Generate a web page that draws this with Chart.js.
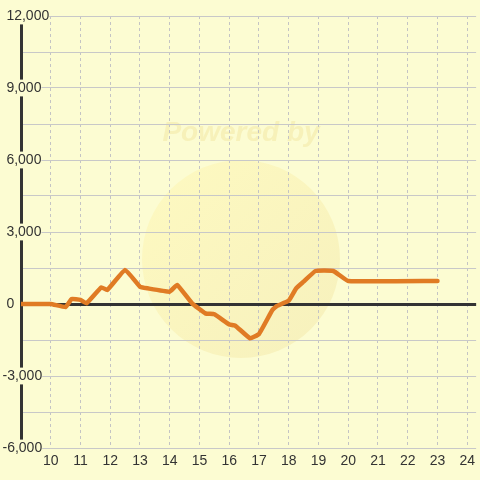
<!DOCTYPE html>
<html>
<head>
<meta charset="utf-8">
<script src="https://cdn.jsdelivr.net/npm/chart.js@4/dist/chart.umd.min.js"></script>
<style>
  html, body { margin: 0; padding: 0; background: #fcfcd2; }
  #wrap { width: 480px; height: 480px; }
</style>
</head>
<body>
<div id="wrap"><canvas id="lineChart"></canvas></div>
<script>
// - - - - - - - - - - Dados - - - - - - - - - -
const horas = [9, 10, 10.5, 10.7, 11, 11.2, 11.7, 11.9, 12.5, 13, 13.25, 14, 14.25, 14.75, 15.2,
    15.5, 16, 16.2, 16.7, 17, 17.45, 17.6, 18, 18.25, 18.5, 18.9, 19.5, 20, 23];
const valores = [0, 0, -125, 208, 170, 30, 695, 583, 1417, 720, 654, 514, 792, 29, -390,
    -430, -850, -900, -1430, -1250, -250, -83, 138, 654, 930, 1375, 1375, 958, 958];
const ticks_x = [10, 11, 12, 13, 14, 15, 16, 17, 18, 19, 20, 21, 22, 23, 24];
const ticks_y = [12000, 9000, 6000, 3000, 0, -3000, -6000];

const cor_fundo = '#fcfcd2';

// fundo + marca d'agua
const fundo = {
    id: 'fundo',
    beforeDraw(chart) {
        const c = chart.ctx;
        c.save();
        c.fillStyle = cor_fundo;
        c.fillRect(0, 0, chart.width, chart.height);
        const g = c.createLinearGradient(160, 180, 320, 340);
        g.addColorStop(0, 'rgba(255,242,160,0.35)');
        g.addColorStop(1, 'rgba(238,222,150,0.35)');
        c.fillStyle = g;
        c.beginPath();
        c.arc(241, 259, 99, 0, Math.PI * 2);
        c.fill();
        c.font = 'italic bold 28px "Liberation Sans", Arial, sans-serif';
        c.fillStyle = 'rgba(235,215,130,0.3)';
        c.textAlign = 'center';
        c.textBaseline = 'middle';
        c.fillText('Powered by', 241, 133);
        c.restore();
    }
};

const ctx = document.getElementById('lineChart').getContext('2d');

new Chart(ctx, {
    type: 'line',
    data: {
        datasets: [{
            data: horas.map((h, i) => ({x: h, y: valores[i]})),
            borderColor: '#e07b24',
            borderWidth: 4.5,
            borderJoinStyle: 'round',
            borderCapStyle: 'round',
            pointRadius: 0,
            tension: 0.1,
            fill: false
        }]
    },
    options: {
        responsive: true,
        maintainAspectRatio: false,
        animation: false,
        layout: {autoPadding: false, padding: {top: 16, left: 0, right: 0, bottom: 0}},
        plugins: {legend: {display: false}, tooltip: {enabled: false}},
        scales: {
            x: {
                type: 'linear',
                min: 9,
                max: 24.3,
                afterFit: s => { s.height = 32; },
                afterBuildTicks: s => { s.ticks = ticks_x.map(v => ({value: v})); },
                grid: {color: '#c4c4c4', lineWidth: 1, drawTicks: false},
                border: {display: false, dash: [3, 3]},
                ticks: {
                    color: '#333',
                    padding: 5,
                    maxRotation: 0,
                    autoSkip: false,
                    font: {family: '"Liberation Sans", Arial, sans-serif', size: 14}
                }
            },
            y: {
                min: -6000,
                max: 12000,
                afterFit: s => { s.width = 21; },
                afterBuildTicks: s => {
                    const t = [];
                    for (let v = -6000; v <= 12000; v += 1500) t.push({value: v});
                    s.ticks = t;
                },
                grid: {
                    drawTicks: false,
                    color: c => c.tick && c.tick.value === 0 ? '#333' : '#c8c8c8',
                    lineWidth: c => c.tick && c.tick.value === 0 ? 3 : 1
                },
                border: {display: true, color: '#333', width: 3},
                ticks: {
                    z: 1,
                    mirror: true,
                    padding: -18.5,
                    color: '#333',
                    showLabelBackdrop: true,
                    backdropColor: cor_fundo,
                    backdropPadding: 0,
                    font: {family: '"Liberation Sans", Arial, sans-serif', size: 14},
                    callback: function(value) {
                        if (!ticks_y.includes(value)) return '';
                        const txt = value.toLocaleString('en-US');
                        return value < 0 ? txt : ' ' + txt;
                    }
                }
            }
        }
    },
    plugins: [fundo]
});
</script>
</body>
</html>
